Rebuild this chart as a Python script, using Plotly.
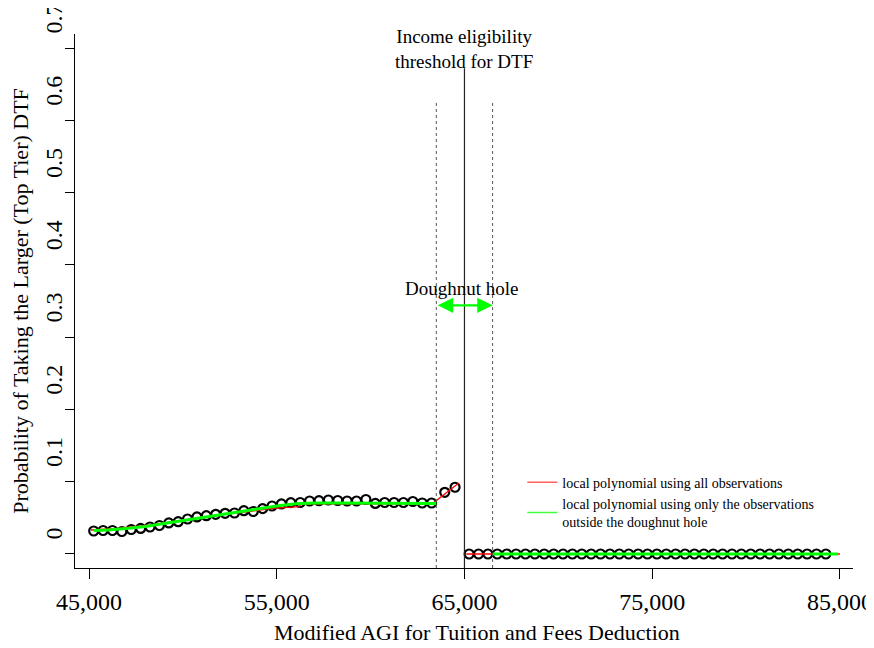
import plotly.graph_objects as go

# ---------------- data ----------------
LEFT_X = [45250, 45750, 46250, 46750, 47250, 47750, 48250, 48750, 49250, 49750,
          50250, 50750, 51250, 51750, 52250, 52750, 53250, 53750, 54250, 54750,
          55250, 55750, 56250, 56750, 57250, 57750, 58250, 58750, 59250, 59750,
          60250, 60750, 61250, 61750, 62250, 62750, 63250, 63950, 64500]
LEFT_Y = [0.0318, 0.0325, 0.0325, 0.0311, 0.0339, 0.0353, 0.0373, 0.0394, 0.0429, 0.0447,
          0.0484, 0.0512, 0.0530, 0.0549, 0.0563, 0.0567, 0.0599, 0.0588, 0.0627, 0.0664,
          0.0692, 0.0710, 0.0712, 0.0733, 0.0737, 0.0747, 0.0740, 0.0733, 0.0733, 0.0754,
          0.0699, 0.0712, 0.0712, 0.0712, 0.0726, 0.0705, 0.0705, 0.0853, 0.0923]

RIGHT_X = [65250, 65750, 66250, 66750, 67250, 67750, 68250, 68750, 69250, 69750,
           70250, 70750, 71250, 71750, 72250, 72750, 73250, 73750, 74250, 74750,
           75250, 75750, 76250, 76750, 77250, 77750, 78250, 78750, 79250, 79750,
           80250, 80750, 81250, 81750, 82250, 82750, 83250, 83750, 84250]
RIGHT_Y = [0.0, 0.0, 0.0, 0.0, 0.0, 0.0, 0.0, 0.0, 0.0, 0.0,
           0.0, 0.0, 0.0, 0.0, 0.0, 0.0, 0.0, 0.0, 0.0, 0.0,
           0.0, 0.0, 0.0, 0.0, 0.0, 0.0, 0.0, 0.0, 0.0, 0.0,
           0.0, 0.0, 0.0, 0.0, 0.0, 0.0, 0.0, 0.0, 0.0]

# local polynomial using all observations (red)
RED_LEFT_X = [45100, 46500, 48300, 50000, 51800, 53500, 54800, 56200, 56300, 58000, 60000, 62000, 63250, 64700]
RED_LEFT_Y = [0.0332, 0.0353, 0.0401, 0.0463, 0.0539, 0.0585, 0.0632, 0.0654, 0.0692, 0.0692, 0.0695, 0.0692, 0.0688, 0.0982]
RED_RIGHT_X = [65100, 85000]
RED_RIGHT_Y = [0.0, 0.0]

# local polynomial using only observations outside the doughnut hole (green)
GREEN_LEFT_X = [45250, 46000, 47000, 48000, 49000, 50000, 51000, 52000, 53000, 54000,
                55000, 56000, 57000, 58000, 59000, 60000, 61000, 62000, 63000, 63500]
GREEN_LEFT_Y = [0.0325, 0.0332, 0.0353, 0.0380, 0.0422, 0.0463, 0.0505, 0.0546, 0.0581, 0.0622,
                0.0664, 0.0694, 0.0705, 0.0705, 0.0705, 0.0701, 0.0699, 0.0699, 0.0699, 0.0699]
GREEN_RIGHT_X = [66500, 84900]
GREEN_RIGHT_Y = [0.0, 0.0]

THRESHOLD = 65000
HOLE_LOW = 63500
HOLE_HIGH = 66500

X_TICKS = [45000, 55000, 65000, 75000, 85000]
X_TICK_TEXT = ["45,000", "55,000", "65,000", "75,000", "85,000"]
Y_TICKS = [0, 0.1, 0.2, 0.3, 0.4, 0.5, 0.6, 0.7]
Y_TICK_TEXT = ["0\u00a0\u00a0\u00a0", "0.1", "0.2", "0.3", "0.4", "0.5", "0.6", "0.7"]

FONT = "Liberation Serif"

fig = go.Figure()

fig.add_trace(go.Scatter(
    x=LEFT_X + RIGHT_X, y=LEFT_Y + RIGHT_Y, mode="markers",
    marker=dict(symbol="circle-open", size=9, color="black", line=dict(width=2.2, color="black")),
    showlegend=False, hoverinfo="x+y"))

fig.add_trace(go.Scatter(
    x=RED_LEFT_X + [None] + RED_RIGHT_X, y=RED_LEFT_Y + [None] + RED_RIGHT_Y,
    mode="lines", line=dict(color="#ff0000", width=1.3), showlegend=False))

fig.add_trace(go.Scatter(
    x=GREEN_LEFT_X + [None] + GREEN_RIGHT_X, y=GREEN_LEFT_Y + [None] + GREEN_RIGHT_Y,
    mode="lines", line=dict(color="#00ff00", width=3), showlegend=False))

# legend entries (thin lines as in the original key)
fig.add_trace(go.Scatter(x=[None], y=[None], mode="lines",
                         line=dict(color="#ff6060", width=1.5),
                         name="local polynomial using all observations"))
fig.add_trace(go.Scatter(x=[None], y=[None], mode="lines",
                         line=dict(color="#40ff40", width=1.5),
                         name="local polynomial using only the observations<br>outside the doughnut hole"))

# vertical lines
fig.add_shape(type="line", xref="x", yref="y", x0=THRESHOLD, x1=THRESHOLD, y0=-0.0194, y1=0.672,
              line=dict(color="#222222", width=1.2))
for xv in (HOLE_LOW, HOLE_HIGH):
    fig.add_shape(type="line", xref="x", yref="y", x0=xv, x1=xv, y0=-0.0194, y1=0.624,
                  line=dict(color="#555555", width=1, dash="dot"))

# doughnut-hole arrow
fig.add_annotation(x=HOLE_HIGH, y=0.344, ax=HOLE_LOW, ay=0.344, xref="x", yref="y",
                   axref="x", ayref="y", text="", showarrow=True,
                   arrowhead=2, arrowside="end+start", arrowsize=1.4, arrowwidth=2.2,
                   arrowcolor="#00ff00", standoff=0, startstandoff=0)
fig.add_annotation(x=THRESHOLD - 150, y=0.367, xref="x", yref="y", text="Doughnut hole",
                   showarrow=False, font=dict(family=FONT, size=19, color="black"))
fig.add_annotation(x=THRESHOLD, y=0.698, xref="x", yref="y",
                   text="Income eligibility<br>threshold for DTF",
                   showarrow=False, font=dict(family=FONT, size=19, color="black"))

# x-axis title (slightly right of centre, as in the original)
fig.add_annotation(x=0.5167, y=-0.1217, xref="paper", yref="paper",
                   xanchor="center", yanchor="middle",
                   text="Modified AGI for Tuition and Fees Deduction",
                   showarrow=False, font=dict(family=FONT, size=22, color="black"))

# the page body adds an 8 px margin, so the figure is 8 px smaller on each axis
fig.update_layout(
    width=866, height=640,
    margin=dict(l=67, r=21, t=26, b=80, autoexpand=False),
    paper_bgcolor="white", plot_bgcolor="white",
    font=dict(family=FONT, color="black"),
    showlegend=True,
    legend=dict(x=0.575, y=0.19, xanchor="left", yanchor="top",
                bgcolor="rgba(0,0,0,0)", borderwidth=0,
                font=dict(family=FONT, size=14, color="black"),
                tracegroupgap=0, itemwidth=30),
    xaxis=dict(range=[44254, 85697], showgrid=False, zeroline=False, automargin=False,
               showline=True, linecolor="black", linewidth=1,
               ticks="outside", ticklen=10, tickcolor="black",
               tickvals=X_TICKS, ticktext=X_TICK_TEXT, ticklabeloverflow="allow",
               ticklabelstandoff=2,
               tickfont=dict(family=FONT, size=24)),
    yaxis=dict(range=[-0.0194, 0.7194], showgrid=False, zeroline=False, automargin=False,
               showline=True, linecolor="black", linewidth=1,
               ticks="outside", ticklen=9, tickcolor="black",
               tickvals=Y_TICKS, ticktext=Y_TICK_TEXT, tickangle=-90,
               ticklabelshift=-26, ticklabelstandoff=-7, ticklabeloverflow="allow",
               tickfont=dict(family=FONT, size=24),
               title=dict(text="Probability of Taking the Larger (Top Tier) DTF",
                          font=dict(family=FONT, size=22), standoff=8)),
)

fig.write_html("out.html")
